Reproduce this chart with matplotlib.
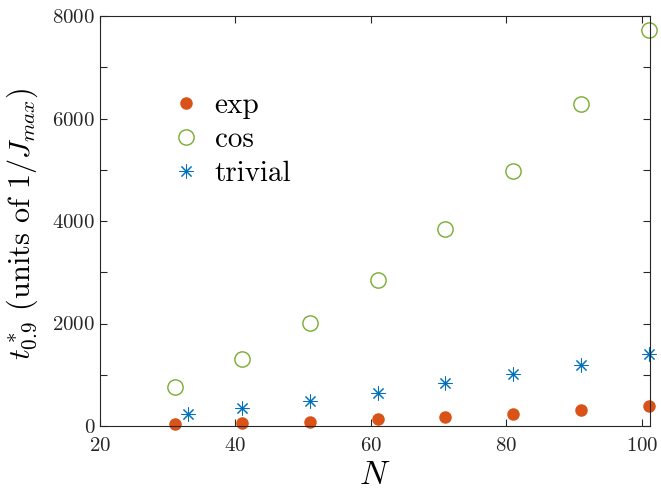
import matplotlib
matplotlib.use('Agg')
import matplotlib.pyplot as plt
from matplotlib.ticker import MultipleLocator

plt.rcParams['font.family'] = 'serif'
plt.rcParams['font.serif'] = ['cmr10']
plt.rcParams['mathtext.fontset'] = 'cm'
plt.rcParams['axes.formatter.use_mathtext'] = True

# data
N_exp = [31, 41, 51, 61, 71, 81, 91, 101]
t_exp = [39, 59, 84, 131, 181, 240, 306, 384]
N_cos = [31, 41, 51, 61, 71, 81, 91, 101]
t_cos = [755, 1301, 2004, 2843, 3844, 4982, 6283, 7721]
N_triv = [33, 41, 51, 61, 71, 81, 91, 101]
t_triv = [234, 351, 494, 650, 845, 1015, 1196, 1411]

fig = plt.figure(figsize=(6.61, 4.91), dpi=100)
ax = fig.add_axes([100 / 661, 65 / 491, 550 / 661, 410 / 491])

ax.plot(N_exp, t_exp, 'o', color='#D95319', markersize=8, label='exp', clip_on=False)
ax.plot(N_cos, t_cos, 'o', mfc='none', mec='#77AC30', markersize=11, mew=1.0,
        label='cos', clip_on=False)
ax.plot(N_triv, t_triv, marker=(8, 2, 0), ls='none', color='#0072BD', markersize=10,
        mew=0.75, label='trivial', clip_on=False)

ax.set_xlim(20, 101.2)
ax.set_ylim(0, 8000)
ax.xaxis.set_major_locator(MultipleLocator(20))
ax.yaxis.set_major_locator(MultipleLocator(2000))
ax.yaxis.set_minor_locator(MultipleLocator(1000))
ax.tick_params(which='both', direction='in', top=True, right=True, length=5,
               width=0.8, labelsize=15, colors='#262626')
ax.tick_params(axis='x', pad=8)
for s in ax.spines.values():
    s.set_color('#262626')
    s.set_linewidth(0.8)

ax.set_xlabel('$N$', fontsize=24, labelpad=4)
ylab = ax.set_ylabel(r'$t^*_{0.9}$ (units of $1/J_{max}$)', fontsize=20)
ax.yaxis.set_label_coords(-0.109, 0.494)

# scale the y label so it spans about 273 px like the reference
fig.canvas.draw()
h = ylab.get_window_extent().height
ylab.set_fontsize(20 * 273 / h)

ax.legend(loc='upper left', bbox_to_anchor=(0.076, 0.877), frameon=False, fontsize=21,
          handletextpad=0.4, labelspacing=0.26, handlelength=1.2)

fig.savefig('out.png', dpi=100)
